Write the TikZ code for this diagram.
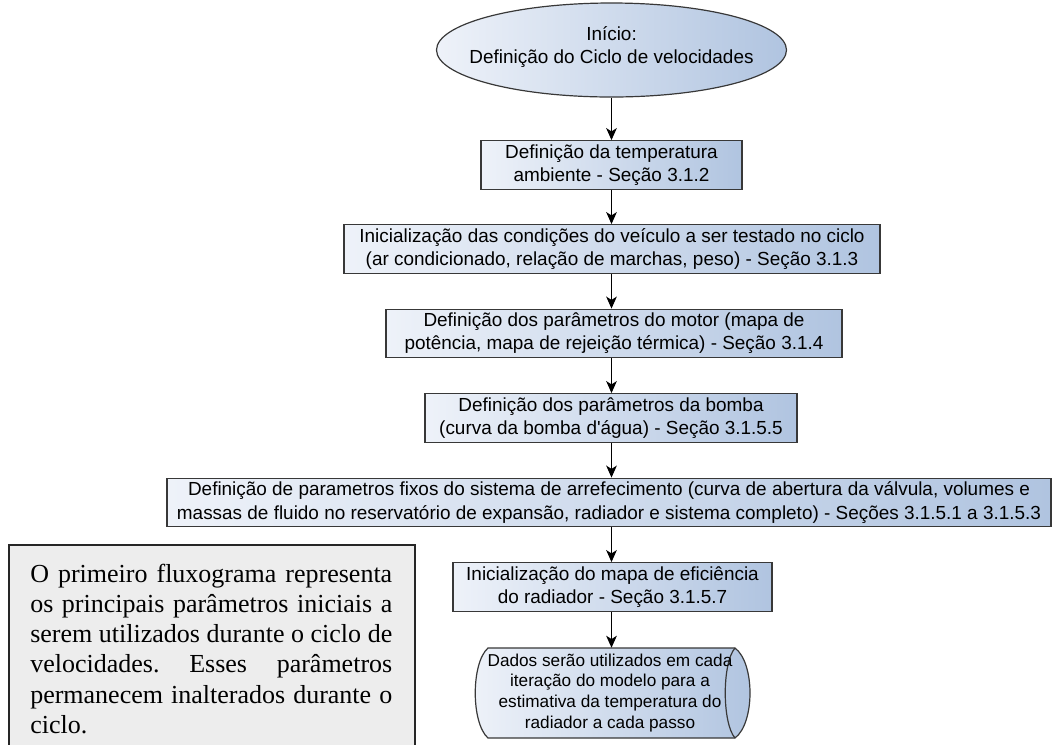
\documentclass[tikz,border=0pt]{standalone}
\usepackage{fontspec}
\setmainfont{Liberation Serif}
\newfontfamily\arialf{Liberation Sans}
\usetikzlibrary{arrows.meta,shapes.geometric}
\definecolor{bl}{HTML}{B0C4E0}
\definecolor{lt}{HTML}{EEF2F9}
\definecolor{bd}{HTML}{383838}
\definecolor{nb}{HTML}{EDEDED}
\frenchspacing
\begin{document}
\begin{tikzpicture}[x=0.75pt,y=-0.75pt,
  flow/.style={draw=bd, line width=0.9pt, left color=lt, right color=bl,
    font=\arialf\fontsize{14.2}{17.4}\selectfont, align=center, inner sep=0pt,
    minimum height=36.5pt},
  arr/.style={line width=0.9pt, -{Stealth[length=9pt,width=8pt,inset=2.5pt]}},
  lbl/.style={font=\arialf\fontsize{14.2}{17.4}\selectfont, align=center, inner sep=0pt}
]
\useasboundingbox (0,0) rectangle (1055,744);

% start ellipse
\node[ellipse, draw=bd, line width=0.9pt, left color=lt, right color=bl,
      minimum width=262.5pt, minimum height=70.5pt, inner sep=0pt] (e) at (611.5,50) {};
\node[lbl] (et) at (611.5,47) {Início:\\Definição do Ciclo de velocidades};

\node[flow, minimum width=195.75pt] (b1) at (611.5,165)
  {Definição da temperatura\\ambiente - Seção 3.1.2};
\node[flow, minimum width=402pt] (b2) at (612,249)
  {Inicialização das condições do veículo a ser testado no ciclo\\(ar condicionado, relação de marchas, peso) - Seção 3.1.3};
\node[flow, minimum width=342pt] (b3) at (614,333.5)
  {Definição dos parâmetros do motor (mapa de\\potência, mapa de rejeição térmica) - Seção 3.1.4};
\node[flow, minimum width=279pt] (b4) at (611,418)
  {Definição dos parâmetros da bomba\\(curva da bomba d'água) - Seção 3.1.5.5};
\node[flow, minimum width=663pt] (b5) at (609,502.5)
  {Definição de parametros fixos do sistema de arrefecimento (curva de abertura da válvula, volumes e\\massas de fluido no reservatório de expansão, radiador e sistema completo) - Seções 3.1.5.1 a 3.1.5.3};
\node[flow, minimum width=239.25pt] (b6) at (612.5,587)
  {Inicialização do mapa de eficiência\\do radiador - Seção 3.1.5.7};

% stored data shape
\path[left color=lt, right color=bl, draw=bd, line width=0.9pt]
  (488,648) -- (735,648) .. controls (755,663) and (755,723) .. (735,738)
  -- (488,738) .. controls (471,723) and (471,663) .. (488,648) -- cycle;
\draw[bd, line width=0.9pt] (735,648) .. controls (722,663) and (722,723) .. (735,738);
\node[font=\arialf\fontsize{12.9}{15.7}\selectfont, align=center, inner sep=0pt,
      minimum width=205pt, minimum height=67.5pt] (st) at (610,693)
  {Dados serão utilizados em cada\\iteração do modelo para a\\estimativa da temperatura do\\radiador a cada passo};

% connectors
\draw[arr] (e.south) -- (e.south |- b1.north);
\draw[arr] (b1.south) -- (b1.south |- b2.north);
\draw[arr] (b1.south |- b2.south) -- (b1.south |- b3.north);
\draw[arr] (b1.south |- b3.south) -- (b1.south |- b4.north);
\draw[arr] (b1.south |- b4.south) -- (b1.south |- b5.north);
\draw[arr] (b1.south |- b5.south) -- (b1.south |- b6.north);
\draw[arr] (b1.south |- b6.south) -- (b1.south |- st.north);

% note box
\path[fill=nb, draw=black!85, line width=1.5pt] (9,545) rectangle (415,775);
\node[anchor=north west, text width=271.5pt, align=justify, inner sep=0pt,
      font=\fontsize{19.5}{22.6}\selectfont] (note) at (30,564)
  {O primeiro fluxograma representa\linebreak
   os principais parâmetros iniciais a\linebreak
   serem utilizados durante o ciclo de\linebreak
   velocidades. Esses parâmetros\linebreak
   permanecem inalterados durante o\linebreak
   ciclo.};
\end{tikzpicture}
\end{document}
